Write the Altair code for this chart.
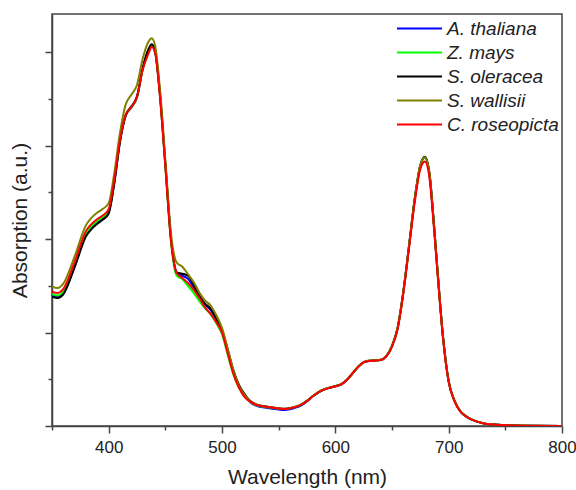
import altair as alt
import pandas as pd

wavelength = [350, 355, 360, 370, 380, 385, 390, 395, 400, 405, 410, 415, 420, 425, 430,
              435, 438, 441, 445, 450, 455, 460, 465, 470, 475, 480, 485, 490, 495, 500,
              505, 510, 515, 520, 525, 530, 540, 550, 555,
              560, 565, 570, 575, 580, 585, 590, 595, 600, 605, 610, 615, 620, 625, 630,
              635, 640, 645, 650, 655, 660, 665, 670, 675, 679, 683, 687, 690, 695, 700,
              705, 710, 715, 720, 730, 740, 750, 770, 800]

a_thaliana = [1.400, 1.386, 1.426, 1.715, 2.045, 2.128, 2.185, 2.225, 2.290, 2.610, 3.050, 3.322, 3.408, 3.518, 3.818,
              4.010, 4.070, 4.000, 3.580, 2.800, 2.000, 1.645, 1.610, 1.575, 1.485, 1.385, 1.300, 1.240, 1.138, 1.020,
              0.805, 0.585, 0.428, 0.328, 0.255, 0.218, 0.192, 0.176, 0.171,
              0.180, 0.197, 0.222, 0.263, 0.315, 0.358, 0.389, 0.409, 0.424, 0.444, 0.490, 0.560, 0.631, 0.681, 0.697,
              0.700, 0.706, 0.747, 0.853, 1.050, 1.433, 1.922, 2.420, 2.785, 2.874, 2.704, 2.155, 1.685, 0.954, 0.477,
              0.274, 0.162, 0.106, 0.070, 0.030, 0.015, 0.008, 0.003, 0.000]

z_mays = [1.410, 1.396, 1.440, 1.730, 2.060, 2.140, 2.195, 2.240, 2.300, 2.620, 3.055, 3.325, 3.410, 3.518, 3.820,
          4.015, 4.075, 4.005, 3.575, 2.785, 1.970, 1.610, 1.570, 1.500, 1.425, 1.335, 1.260, 1.195, 1.100, 0.985,
          0.765, 0.555, 0.410, 0.318, 0.256, 0.224, 0.200, 0.185, 0.181,
          0.190, 0.205, 0.229, 0.269, 0.319, 0.361, 0.391, 0.411, 0.426, 0.446, 0.491, 0.561, 0.632, 0.682, 0.698,
          0.701, 0.707, 0.748, 0.854, 1.051, 1.434, 1.924, 2.422, 2.787, 2.876, 2.706, 2.156, 1.686, 0.955, 0.477,
          0.274, 0.162, 0.106, 0.070, 0.030, 0.015, 0.008, 0.003, 0.000]

s_oleracea = [1.384, 1.370, 1.410, 1.700, 2.030, 2.110, 2.165, 2.210, 2.275, 2.600, 3.045, 3.325, 3.420, 3.530, 3.830,
              4.030, 4.085, 4.015, 3.595, 2.815, 2.010, 1.640, 1.630, 1.610, 1.510, 1.395, 1.310, 1.255, 1.150, 1.030,
              0.820, 0.600, 0.440, 0.340, 0.268, 0.232, 0.206, 0.190, 0.184,
              0.191, 0.206, 0.229, 0.269, 0.319, 0.361, 0.391, 0.411, 0.426, 0.446, 0.492, 0.562, 0.633, 0.683, 0.699,
              0.702, 0.708, 0.749, 0.855, 1.052, 1.436, 1.926, 2.425, 2.790, 2.882, 2.708, 2.158, 1.688, 0.956, 0.478,
              0.275, 0.162, 0.106, 0.071, 0.031, 0.015, 0.008, 0.003, 0.000]

s_wallisii = [1.492, 1.478, 1.525, 1.815, 2.150, 2.230, 2.285, 2.325, 2.385, 2.710, 3.140, 3.440, 3.545, 3.650, 3.930,
              4.110, 4.150, 4.070, 3.640, 2.850, 2.060, 1.750, 1.705, 1.625, 1.540, 1.430, 1.345, 1.290, 1.185, 1.050,
              0.830, 0.600, 0.430, 0.330, 0.262, 0.230, 0.205, 0.189, 0.184,
              0.192, 0.207, 0.230, 0.270, 0.320, 0.362, 0.392, 0.412, 0.427, 0.447, 0.493, 0.563, 0.634, 0.684, 0.700,
              0.703, 0.709, 0.750, 0.857, 1.055, 1.440, 1.930, 2.430, 2.795, 2.878, 2.710, 2.160, 1.690, 0.958, 0.480,
              0.276, 0.163, 0.107, 0.071, 0.031, 0.016, 0.009, 0.004, 0.001]

c_roseopicta = [1.438, 1.424, 1.467, 1.756, 2.088, 2.163, 2.216, 2.255, 2.320, 2.640, 3.062, 3.330, 3.415, 3.522, 3.812,
                3.983, 4.058, 3.994, 3.560, 2.780, 1.980, 1.640, 1.585, 1.531, 1.460, 1.370, 1.270, 1.200, 1.110, 1.000,
                0.780, 0.560, 0.410, 0.310, 0.258, 0.228, 0.203, 0.187, 0.182,
                0.190, 0.205, 0.228, 0.268, 0.318, 0.360, 0.390, 0.410, 0.425, 0.445, 0.490, 0.560, 0.630, 0.680, 0.696,
                0.699, 0.705, 0.745, 0.850, 1.040, 1.420, 1.900, 2.390, 2.750, 2.830, 2.660, 2.120, 1.660, 0.940, 0.470,
                0.270, 0.160, 0.105, 0.070, 0.030, 0.015, 0.008, 0.003, 0.000]

series_names = ["A. thaliana", "Z. mays", "S. oleracea", "S. wallisii", "C. roseopicta"]
series_values = [a_thaliana, z_mays, s_oleracea, s_wallisii, c_roseopicta]
series_colors = ["#0000ff", "#00ff00", "#000000", "#808000", "#ff0000"]

x_ticks = [350, 400, 450, 500, 550, 600, 650, 700, 750, 800]
y_ticks = [0, 0.5, 1, 1.5, 2, 2.5, 3, 3.5, 4]

rows = []
for name, vals in zip(series_names, series_values):
    assert len(vals) == len(wavelength), name
    for w, v in zip(wavelength, vals):
        rows.append({"wl": w, "abs": v, "sample": name})
df = pd.DataFrame(rows)

FONT = "Liberation Sans, Arial, sans-serif"
AX = "#444444"
TXT = "#222222"

chart = alt.Chart(df).mark_line(strokeWidth=2, interpolate="monotone", clip=True).encode(
    x=alt.X("wl:Q", scale=alt.Scale(domain=[350, 800], nice=False, zero=False),
            axis=alt.Axis(title="Wavelength (nm)", values=x_ticks,
                          labelExpr="datum.value % 100 === 0 ? datum.label : ''",
                          tickSize={"condition": {"test": "datum.value % 100 === 0", "value": 7}, "value": 4},
                          labelFlush=False, grid=False, labelPadding=6, titlePadding=11)),
    y=alt.Y("abs:Q", scale=alt.Scale(domain=[0, 4.41], nice=False, zero=False),
            axis=alt.Axis(title="Absorption (a.u.)", values=y_ticks, labels=False,
                          tickSize={"condition": {"test": "datum.value % 1 === 0", "value": 7}, "value": 4},
                          grid=False, titlePadding=14)),
    color=alt.Color("sample:N", sort=series_names,
                    scale=alt.Scale(domain=series_names, range=series_colors),
                    legend=alt.Legend(title=None, orient="none", legendX=358, legendY=5,
                                      symbolType="M-3,0H3", symbolSize=225, symbolStrokeWidth=2,
                                      labelFontSize=19, labelFontStyle="italic", labelFont=FONT,
                                      labelColor=TXT, labelOffset=18, rowPadding=4, padding=0)),
).properties(
    width=510, height=412,
    autosize=alt.AutoSizeParams(type="none"),
    padding={"left": 52, "top": 14, "right": 14, "bottom": 64},
).configure_view(
    stroke=AX, strokeWidth=1.5
).configure_axis(
    domainColor=AX, domainWidth=1.5, tickColor=AX, tickWidth=1.5,
    labelFont=FONT, labelFontSize=17, labelColor=TXT,
    titleFont=FONT, titleFontSize=21, titleFontWeight="normal", titleColor=TXT,
)

chart.save("out.html", embed_options={"renderer": "svg", "actions": False})
